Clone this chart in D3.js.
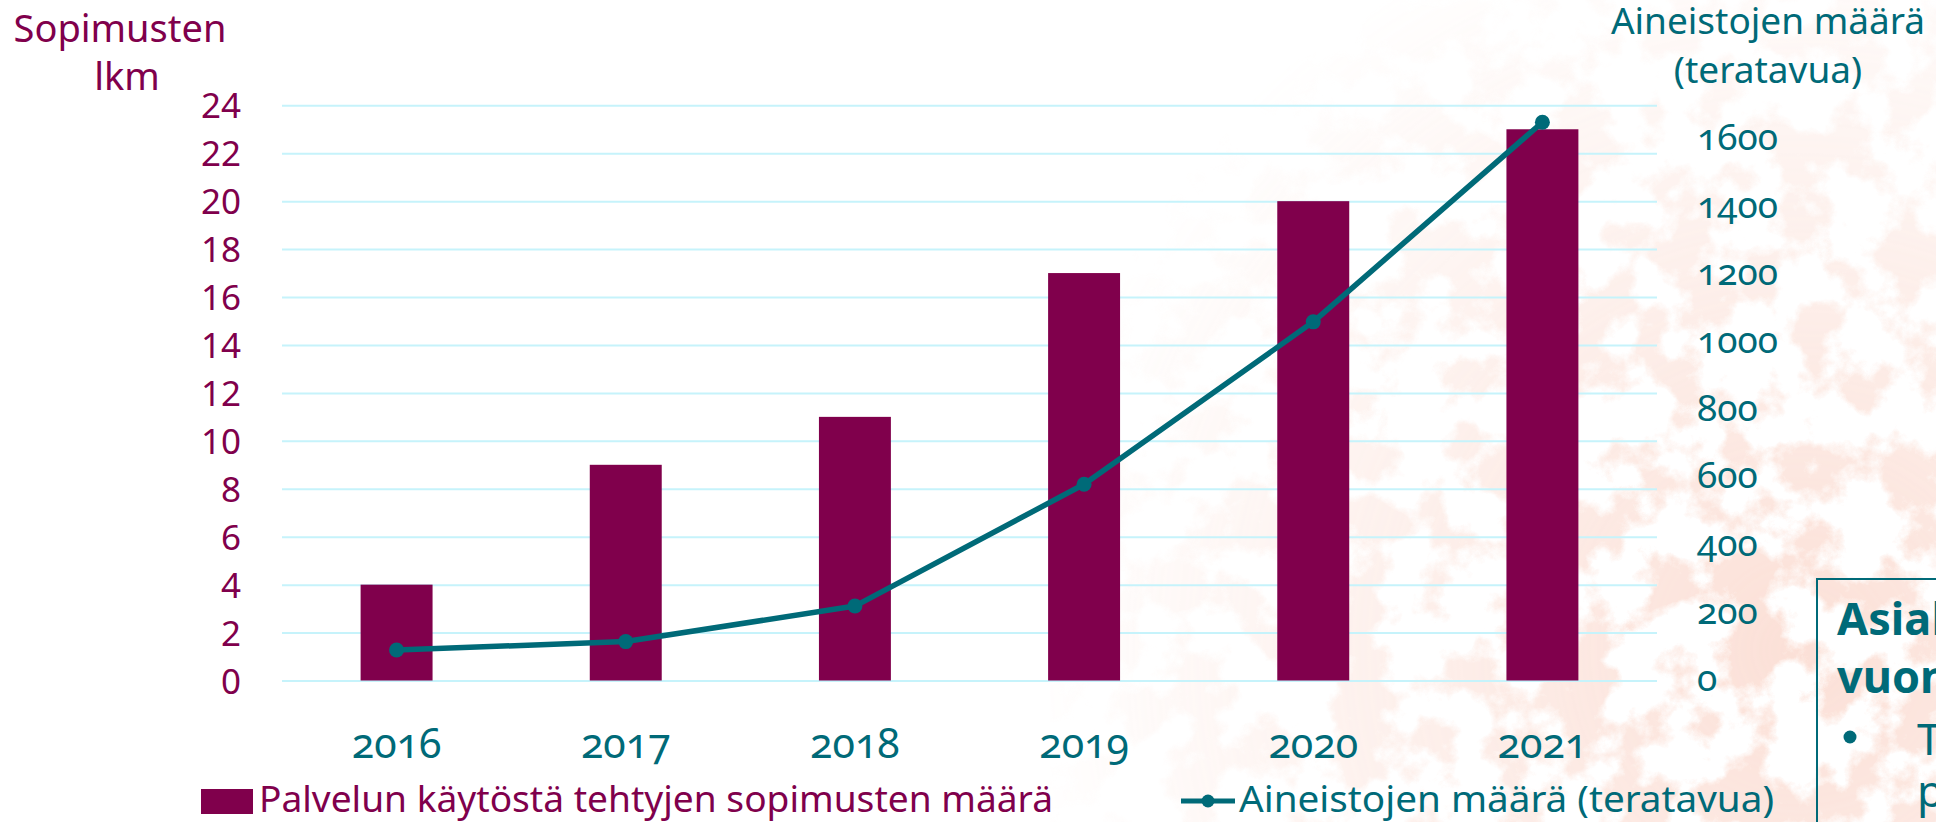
<!DOCTYPE html>
<html>
<head>
<meta charset="utf-8">
<script src="https://cdn.jsdelivr.net/npm/d3@7"></script>
<style>
  html, body { margin: 0; padding: 0; background: #ffffff; overflow: hidden; }
  svg { display: block; font-family: "Noto Sans", "Open Sans", sans-serif; }
  .onum { font-variant-numeric: oldstyle-nums; font-feature-settings: "onum" 1; }
</style>
</head>
<body>
<svg id="chart" width="1936" height="822"></svg>
<script>
// ---- data ----
const years = ["2016", "2017", "2018", "2019", "2020", "2021"];
const contractCounts = [4, 9, 11, 17, 20, 23];
const dataVolumeTB = [90, 115, 220, 580, 1060, 1650];
const leftTickValues = [0, 2, 4, 6, 8, 10, 12, 14, 16, 18, 20, 22, 24];
const rightTickValues = [0, 200, 400, 600, 800, 1000, 1200, 1400, 1600];
const leftTitleLines = ["Sopimusten", "lkm"];
const rightTitleLines = ["Aineistojen määrä", "(teratavua)"];
const barSeriesName = "Palvelun käytöstä tehtyjen sopimusten määrä";
const lineSeriesName = "Aineistojen määrä (teratavua)";
const boxLines = ["Asiak", "vuon"];

// ---- styles ----
const MAROON = "#80004c";
const TEAL = "#006a78";
const GRID = "#c6f3fb";

const svg = d3.select("#chart");
const W = 1936, H = 822;
const plot = { left: 282, right: 1657, top: 105.3, bottom: 680.5 };

// ---- faint map-like background texture on the right ----
const defs = svg.append("defs");
const f = defs.append("filter").attr("id", "tex").attr("x", 0).attr("y", 0).attr("width", "100%").attr("height", "100%");
f.append("feTurbulence").attr("type", "fractalNoise").attr("baseFrequency", "0.018").attr("numOctaves", 7).attr("seed", 11).attr("result", "n");
f.append("feColorMatrix").attr("in", "n").attr("type", "matrix")
  .attr("values", "0 0 0 0 0.95  0 0 0 0 0.6  0 0 0 0 0.5  7 0 0 0 -3.2");
const rg = defs.append("radialGradient").attr("id", "fade").attr("gradientUnits", "userSpaceOnUse")
  .attr("cx", 1800).attr("cy", 650).attr("r", 780);
rg.append("stop").attr("offset", 0).attr("stop-color", "#fff").attr("stop-opacity", 1);
rg.append("stop").attr("offset", 0.5).attr("stop-color", "#fff").attr("stop-opacity", 0.5);
rg.append("stop").attr("offset", 1).attr("stop-color", "#fff").attr("stop-opacity", 0);
const mask = defs.append("mask").attr("id", "fadeMask");
mask.append("rect").attr("x", 0).attr("y", 0).attr("width", W).attr("height", H).attr("fill", "url(#fade)");
svg.append("rect").attr("x", 1050).attr("y", 0).attr("width", W - 1050).attr("height", H)
  .attr("filter", "url(#tex)").attr("mask", "url(#fadeMask)").attr("opacity", 0.6);

// ---- scales ----
const x = d3.scaleBand().domain(years).range([plot.left, plot.right]).paddingInner(0.686).paddingOuter(0.343);
const yL = d3.scaleLinear().domain([0, 24]).range([plot.bottom, plot.top]);
const yR = d3.scaleLinear().domain([0, 1700]).range([plot.bottom, plot.top]);

// ---- gridlines ----
const gridG = svg.append("g").attr("transform", `translate(${plot.left},0)`)
  .call(d3.axisLeft(yL).tickValues(leftTickValues).tickSize(-(plot.right - plot.left)).tickFormat(""));
gridG.select(".domain").remove();
gridG.selectAll(".tick line").attr("stroke", GRID).attr("stroke-width", 2);

// ---- bars ----
svg.append("g").selectAll("rect").data(years).join("rect")
  .attr("x", d => x(d))
  .attr("width", x.bandwidth())
  .attr("y", (d, i) => yL(contractCounts[i]))
  .attr("height", (d, i) => yL(0) - yL(contractCounts[i]))
  .attr("fill", MAROON);

// ---- line ----
const line = d3.line().x((d, i) => x(years[i]) + x.bandwidth() / 2).y(d => yR(d));
svg.append("path").datum(dataVolumeTB).attr("d", line)
  .attr("fill", "none").attr("stroke", TEAL).attr("stroke-width", 5.5).attr("stroke-linejoin", "round");
svg.append("g").selectAll("circle").data(dataVolumeTB).join("circle")
  .attr("cx", (d, i) => x(years[i]) + x.bandwidth() / 2)
  .attr("cy", d => yR(d)).attr("r", 7.5).attr("fill", TEAL);

// ---- left axis ----
const lAx = svg.append("g").attr("transform", `translate(${plot.left},0)`)
  .call(d3.axisLeft(yL).tickValues(leftTickValues).tickSize(0).tickPadding(41));
lAx.select(".domain").remove();
lAx.selectAll("text").attr("fill", MAROON).style("font-size", "35px").style("font-family", "'Noto Sans', sans-serif").attr("dy", "0.36em");

// ---- right axis ----
const rAx = svg.append("g").attr("transform", `translate(${plot.right},0)`)
  .call(d3.axisRight(yR).tickValues(rightTickValues).tickFormat(d3.format("d")).tickSize(0).tickPadding(40));
rAx.select(".domain").remove();
rAx.selectAll("text").attr("fill", TEAL).attr("class", "onum").style("font-size", "37px")
  .style("font-family", "'Noto Sans', sans-serif").attr("dy", "0.28em");

// ---- x axis ----
const xAx = svg.append("g").attr("transform", `translate(0,${plot.bottom})`)
  .call(d3.axisBottom(x).tickSize(0));
xAx.select(".domain").remove();
xAx.selectAll("text").attr("fill", TEAL).attr("class", "onum").style("font-size", "41px")
  .style("font-family", "'Noto Sans', sans-serif").attr("dy", null).attr("y", 758 - plot.bottom);

// ---- axis titles ----
svg.append("g").selectAll("text").data(leftTitleLines).join("text")
  .attr("x", (d, i) => i === 0 ? 120 : 127).attr("y", (d, i) => i === 0 ? 42 : 90)
  .attr("text-anchor", "middle").attr("fill", MAROON).style("font-size", "38px").text(d => d);
svg.append("g").selectAll("text").data(rightTitleLines).join("text")
  .attr("x", 1768).attr("y", (d, i) => i === 0 ? 34 : 83)
  .attr("text-anchor", "middle").attr("fill", TEAL).style("font-size", "37px").text(d => d);

// ---- legend ----
const leg = svg.append("g");
leg.append("rect").attr("x", 201).attr("y", 789).attr("width", 52).attr("height", 25).attr("fill", MAROON);
leg.append("text").attr("x", 259).attr("y", 812).attr("fill", MAROON).style("font-size", "37px")
  .attr("textLength", 794).attr("lengthAdjust", "spacingAndGlyphs").text(barSeriesName);
leg.append("line").attr("x1", 1181).attr("x2", 1235).attr("y1", 801).attr("y2", 801)
  .attr("stroke", TEAL).attr("stroke-width", 5);
leg.append("circle").attr("cx", 1208).attr("cy", 801).attr("r", 6.5).attr("fill", TEAL);
leg.append("text").attr("x", 1239).attr("y", 812).attr("fill", TEAL).style("font-size", "37px")
  .attr("textLength", 535).attr("lengthAdjust", "spacingAndGlyphs").text(lineSeriesName);

// ---- info box (partially off-canvas) ----
const box = svg.append("g");
box.append("rect").attr("x", 1817).attr("y", 579).attr("width", 300).attr("height", 400)
  .attr("fill", "none").attr("stroke", TEAL).attr("stroke-width", 2);
box.selectAll("text.b").data(boxLines).join("text").attr("class", "b")
  .attr("x", 1837).attr("y", (d, i) => i === 0 ? 635 : 693)
  .attr("fill", TEAL).style("font-size", "45px").style("font-weight", "bold").text(d => d);
box.append("circle").attr("cx", 1850).attr("cy", 737).attr("r", 6.5).attr("fill", TEAL);
box.append("text").attr("x", 1917).attr("y", 755).attr("fill", TEAL).style("font-size", "44px").text("T");
box.append("text").attr("x", 1917).attr("y", 807).attr("fill", TEAL).style("font-size", "44px").text("p");
</script>
</body>
</html>
